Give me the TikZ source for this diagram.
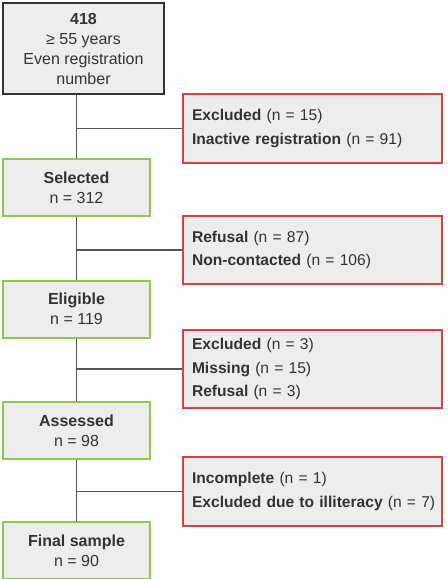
\documentclass[tikz,border=0pt]{standalone}
\usepackage{fontspec}
\setmainfont{Liberation Sans}
\usepackage{xcolor}
\definecolor{boxgray}{HTML}{EDEDED}
\definecolor{keepgreen}{HTML}{8DC94E}
\definecolor{dropred}{HTML}{D9413F}
\definecolor{linegray}{HTML}{555555}
\definecolor{txtgray}{HTML}{333333}
\usetikzlibrary{positioning}

\begin{document}
\begin{tikzpicture}[x=0.75pt, y=-0.75pt,
  startbox/.style={draw=txtgray, line width=1.5pt, fill=boxgray, text=txtgray,
    align=center, minimum width=120.75pt, minimum height=68.25pt,
    font=\fontsize{12}{15}\selectfont},
  keepbox/.style={draw=keepgreen, line width=1.5pt, fill=boxgray, text=txtgray,
    align=center, minimum width=110.25pt, minimum height=42.75pt,
    font=\fontsize{12}{15}\selectfont},
  dropbox/.style={draw=dropred, line width=1.5pt, fill=boxgray, text=txtgray,
    align=left, text width=180.75pt, inner xsep=6.75pt,
    font=\fontsize{11.7}{17.7}\selectfont},
  link/.style={draw=linegray, line width=1pt}]

  \useasboundingbox (0,0) rectangle (447,579);

  % main column
  \node[startbox] (start) at (83.5,48.5) {\textbf{418}\\≥ 55 years\\Even registration\\number};
  \node[keepbox] (selected) at (76.5,187.5) {\textbf{Selected}\\n = 312};
  \node[keepbox] (eligible) at (76.5,309) {\textbf{Eligible}\\n = 119};
  \node[keepbox] (assessed) at (76.5,430.5) {\textbf{Assessed}\\n = 98};
  \node[keepbox] (final) at (76.5,550.5) {\textbf{Final sample}\\n = 90};

  % side boxes
  \node[dropbox, minimum height=51.75pt] (drop1) at (312.5,128.5)
    {\textbf{Excluded} (n = 15)\\\textbf{Inactive registration} (n = 91)};
  \node[dropbox, minimum height=51pt] (drop2) at (312.5,250)
    {\textbf{Refusal} (n = 87)\\\textbf{Non-contacted} (n = 106)};
  \node[dropbox, minimum height=58.5pt] (drop3) at (312.5,369)
    {\textbf{Excluded} (n = 3)\\\textbf{Missing} (n = 15)\\\textbf{Refusal} (n = 3)};
  \node[dropbox, minimum height=51.75pt] (drop4) at (312.5,491.5)
    {\textbf{Incomplete} (n = 1)\\\mbox{\textbf{Excluded due to illiteracy} (n = 7)}};

  % vertical links
  \draw[link] (selected.north |- start.south) -- (selected.north);
  \draw[link] (selected.south) -- (eligible.north);
  \draw[link] (eligible.south) -- (assessed.north);
  \draw[link] (assessed.south) -- (final.north);

  % branches
  \draw[link] (drop1.west) -- (drop1.west -| selected.north);
  \draw[link] (drop2.west) -- (drop2.west -| selected.north);
  \draw[link] (drop3.west) -- (drop3.west -| selected.north);
  \draw[link] (drop4.west) -- (drop4.west -| selected.north);
\end{tikzpicture}
\end{document}
